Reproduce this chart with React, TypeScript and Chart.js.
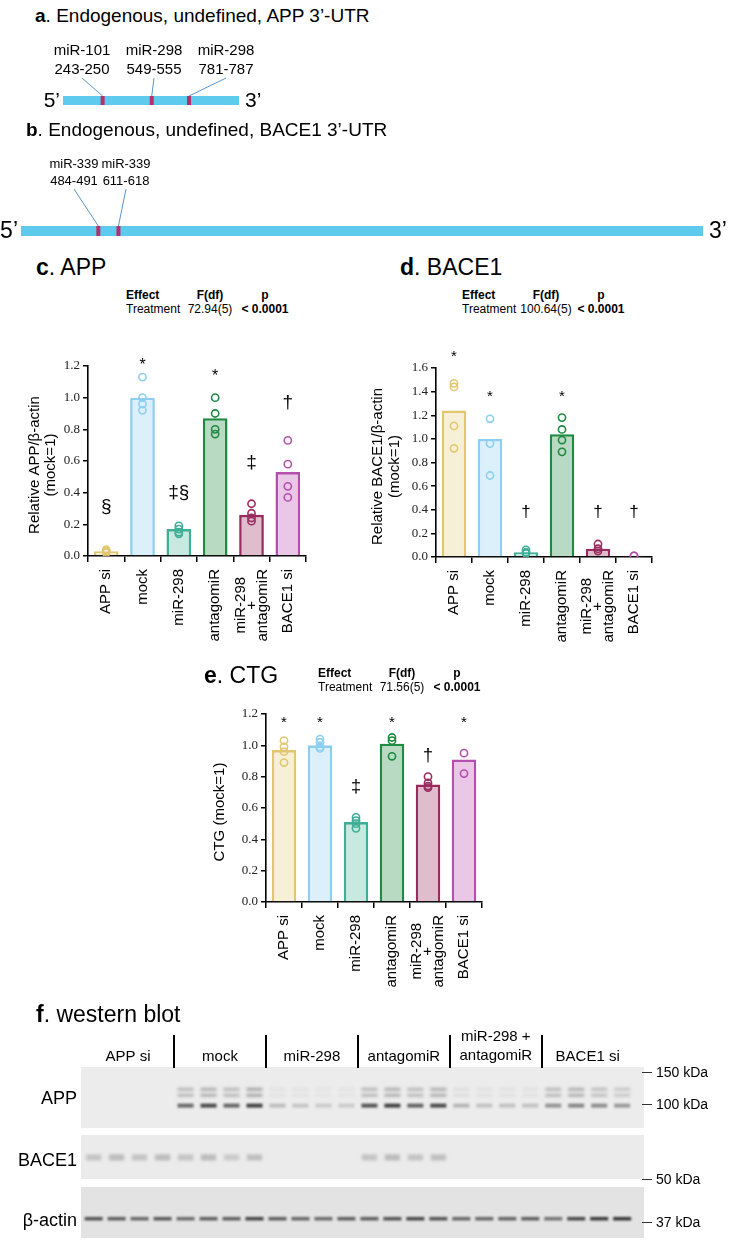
import React, { useEffect, useRef } from "react";
import { Chart, registerables } from "chart.js";

Chart.register(...registerables);

const SANS = '"Liberation Sans", Arial, Helvetica, sans-serif';
const SERIF = '"Liberation Serif", "Times New Roman", serif';

// ===== Panels a / b : 3'-UTR site maps =====
const appUtrLength = 1095;
const appSiteNames = ["miR-101", "miR-298", "miR-298"];
const appSiteStarts = [243, 549, 781];
const appSiteEnds = [250, 555, 787];

const baceUtrLength = 4300;
const baceSiteNames = ["miR-339", "miR-339"];
const baceSiteStarts = [484, 611];
const baceSiteEnds = [491, 618];

// ===== Panels c - e : bar charts =====
const categories = ["APP si", "mock", "miR-298", "antagomiR", "miR-298 + antagomiR", "BACE1 si"];
const categoryLines = [["APP si"], ["mock"], ["miR-298"], ["antagomiR"], ["miR-298", "+", "antagomiR"], ["BACE1 si"]];
const strokeColors = ["#e2c76f", "#8ecff1", "#3eae97", "#1f8a41", "#9a2b5f", "#b44fb0"];
const fillColors = ["#f6f0d7", "#dcf0fb", "#c7e9e0", "#b8dac3", "#e0bdcc", "#eac6e7"];

const appMeans = [0.03, 1.0, 0.17, 0.87, 0.26, 0.53];
const appPoints = [
  [0.04, 0.03, 0.03, 0.02],
  [1.13, 1.0, 0.96, 0.92],
  [0.19, 0.17, 0.15, 0.14],
  [1.0, 0.9, 0.8, 0.77],
  [0.33, 0.27, 0.24, 0.22],
  [0.73, 0.58, 0.44, 0.37],
];
const appMarks = ["§", "*", "‡§", "*", "‡", "†"];
const appMarkY = [0.31, 1.23, 0.4, 1.16, 0.59, 0.97];
const appStatF = "72.94(5)";

const baceMeans = [1.24, 1.0, 0.04, 1.04, 0.07, 0.01];
const bacePoints = [
  [1.47, 1.44, 1.11, 0.92],
  [1.17, 0.96, 0.69],
  [0.06, 0.04, 0.03],
  [1.18, 1.08, 0.99, 0.89],
  [0.11, 0.07, 0.05],
  [0.01, 0.01],
];
const baceMarks = ["*", "*", "†", "*", "†", "†"];
const baceMarkY = [1.73, 1.39, 0.38, 1.39, 0.38, 0.38];
const baceStatF = "100.64(5)";

const ctgMeans = [0.97, 1.0, 0.51, 1.01, 0.75, 0.91];
const ctgPoints = [
  [1.03, 0.99, 0.96, 0.89],
  [1.04, 1.02, 0.99, 0.98],
  [0.54, 0.52, 0.5, 0.47],
  [1.05, 1.03, 0.93],
  [0.8, 0.76, 0.74, 0.73],
  [0.95, 0.82],
];
const ctgMarks = ["*", "*", "‡", "*", "†", "*"];
const ctgMarkY = [1.17, 1.17, 0.73, 1.17, 0.93, 1.17];
const ctgStatF = "71.56(5)";
const pValueText = "< 0.0001";

// ===== Panel f : western blot (band intensity per lane, 24 lanes) =====
const blotGroupLines = [["APP si"], ["mock"], ["miR-298"], ["antagomiR"], ["miR-298 +", "antagomiR"], ["BACE1 si"]];
const lanesPerGroup = 4;
const appMatureBand = [0, 0, 0, 0, 0.26, 0.3, 0.26, 0.34, 0.05, 0.05, 0.04, 0.05, 0.26, 0.3, 0.25, 0.3, 0.07, 0.06, 0.06, 0.06, 0.26, 0.3, 0.23, 0.19];
const appImmatureBand = [0, 0, 0, 0, 0.62, 0.78, 0.64, 0.82, 0.22, 0.18, 0.16, 0.16, 0.72, 0.82, 0.66, 0.78, 0.26, 0.2, 0.2, 0.2, 0.42, 0.48, 0.45, 0.4];
const bace1Band = [0.2, 0.24, 0.2, 0.24, 0.2, 0.24, 0.16, 0.22, 0, 0, 0, 0, 0.2, 0.24, 0.2, 0.22, 0, 0, 0, 0, 0, 0, 0, 0];
const actinBand = [0.72, 0.66, 0.62, 0.7, 0.6, 0.66, 0.66, 0.8, 0.66, 0.62, 0.6, 0.66, 0.66, 0.72, 0.78, 0.72, 0.62, 0.62, 0.64, 0.66, 0.56, 0.78, 0.85, 0.88];
const appMatureKDa = 116;
const appImmatureKDa = 98;
const bace1KDa = 61;
const actinKDa = 38;
const appMarkers = [150, 100];
const baceMarkers = [50];
const actinMarkers = [37];

type Area = { left: number; top: number; right: number; bottom: number };

function T(props: {
  x: number;
  y: number;
  size: number;
  weight?: number;
  align?: "left" | "center" | "right";
  children: React.ReactNode;
}) {
  const { x, y, size, weight = 400, align = "left", children } = props;
  const style: React.CSSProperties = {
    position: "absolute",
    top: y - size * 0.8465,
    fontSize: size,
    lineHeight: `${size}px`,
    fontFamily: SANS,
    fontWeight: weight,
    whiteSpace: "pre",
    color: "#000",
    left: x,
  };
  if (align === "center") style.transform = "translateX(-50%)";
  if (align === "right") style.transform = "translateX(-100%)";
  return <div style={style}>{children}</div>;
}

function ChartCanvas(props: { left: number; top: number; width: number; height: number; make: () => any }) {
  const ref = useRef<HTMLCanvasElement>(null);
  useEffect(() => {
    const chart = new Chart(ref.current as HTMLCanvasElement, props.make());
    return () => chart.destroy();
  }, []);
  return (
    <canvas
      ref={ref}
      width={props.width}
      height={props.height}
      style={{ position: "absolute", left: props.left, top: props.top, width: props.width, height: props.height }}
    />
  );
}

function makeUtrConfig(o: {
  length: number;
  names: string[];
  starts: number[];
  ends: number[];
  width: number;
  height: number;
  area: Area;
  labelX: number[];
  font: number;
  base1: number;
  base2: number;
  lineFrom: number;
  endFont: number;
}) {
  const decor = {
    id: "utrDecor",
    afterDraw(chart: any) {
      const { ctx, chartArea: ca, scales } = chart;
      const xs = scales.x;
      ctx.save();
      o.starts.forEach((s, i) => {
        const cx = xs.getPixelForValue((s + o.ends[i]) / 2);
        ctx.strokeStyle = "#5b93c8";
        ctx.lineWidth = 1;
        ctx.beginPath();
        ctx.moveTo(o.labelX[i], ca.top + o.lineFrom);
        ctx.lineTo(cx, ca.top);
        ctx.stroke();
        ctx.fillStyle = "#b3306b";
        ctx.fillRect(cx - 2, ca.top, 4, ca.bottom - ca.top);
        ctx.fillStyle = "#000";
        ctx.font = `${o.font}px ${SANS}`;
        ctx.textAlign = "center";
        ctx.textBaseline = "alphabetic";
        ctx.fillText(o.names[i], o.labelX[i], ca.top + o.base1);
        ctx.fillText(`${s}-${o.ends[i]}`, o.labelX[i], ca.top + o.base2);
      });
      ctx.font = `${o.endFont}px ${SANS}`;
      ctx.textBaseline = "alphabetic";
      ctx.textAlign = "right";
      ctx.fillText("5’", xs.getPixelForValue(0) - 3, ca.bottom + 2);
      ctx.textAlign = "left";
      ctx.fillText("3’", xs.getPixelForValue(o.length) + 6, ca.bottom + 2);
      ctx.restore();
    },
  };
  return {
    type: "bar",
    data: {
      labels: ["3'-UTR"],
      datasets: [
        {
          data: [[0, o.length]],
          backgroundColor: "#5ecbee",
          borderWidth: 0,
          barPercentage: 1,
          categoryPercentage: 1,
        },
      ],
    },
    options: {
      indexAxis: "y",
      animation: false,
      responsive: false,
      events: [],
      layout: { padding: { left: o.area.left, top: o.area.top, right: o.width - o.area.right, bottom: o.height - o.area.bottom } },
      plugins: { legend: { display: false }, tooltip: { enabled: false } },
      scales: {
        x: { type: "linear", min: 0, max: o.length, display: false },
        y: { display: false },
      },
    },
    plugins: [decor],
  };
}

function makeBarConfig(o: {
  means: number[];
  points: number[][];
  marks: string[];
  markY: number[];
  yMax: number;
  yTitle: string[];
  yTitleX: number[];
  width: number;
  height: number;
  area: Area;
  starSize: number;
  markSize: number;
}) {
  const pts: { x: string; y: number }[] = [];
  const ptColors: string[] = [];
  o.points.forEach((arr, i) =>
    arr.forEach((v) => {
      pts.push({ x: categories[i], y: v });
      ptColors.push(strokeColors[i]);
    })
  );
  const decor = {
    id: "barDecor",
    afterDraw(chart: any) {
      const { ctx, chartArea: ca, scales } = chart;
      const xs = scales.x;
      const ys = scales.y;
      ctx.save();
      ctx.fillStyle = "#000";
      ctx.textAlign = "center";
      ctx.textBaseline = "alphabetic";
      o.marks.forEach((m, i) => {
        const star = m === "*";
        const size = star ? o.starSize : o.markSize;
        ctx.font = `${size}px ${SANS}`;
        const px = xs.getPixelForValue(i);
        const py = ys.getPixelForValue(o.markY[i]);
        ctx.fillText(m, px, py + size * (star ? 0.57 : 0.27));
      });
      ctx.font = `15px ${SANS}`;
      ctx.textBaseline = "middle";
      categoryLines.forEach((lines, i) => {
        const px = xs.getPixelForValue(i);
        const w = Math.max(...lines.map((l) => ctx.measureText(l).width));
        ctx.save();
        ctx.translate(px, ca.bottom + 13);
        ctx.rotate(-Math.PI / 2);
        lines.forEach((l, k) => ctx.fillText(l, -w / 2, (k - (lines.length - 1) / 2) * 11));
        ctx.restore();
      });
      const cy = (ca.top + ca.bottom) / 2 + 4;
      o.yTitle.forEach((t, k) => {
        ctx.save();
        ctx.translate(o.yTitleX[k], cy);
        ctx.rotate(-Math.PI / 2);
        ctx.fillText(t, 0, 0);
        ctx.restore();
      });
      ctx.restore();
    },
  };
  return {
    type: "bar",
    data: {
      labels: categories,
      datasets: [
        {
          type: "scatter",
          data: pts,
          pointRadius: 3.6,
          pointHoverRadius: 3.6,
          pointBorderWidth: 1.6,
          pointBackgroundColor: "rgba(255,255,255,0)",
          pointBorderColor: ptColors,
          order: 0,
        },
        {
          type: "bar",
          data: o.means,
          backgroundColor: fillColors,
          borderColor: strokeColors,
          borderWidth: 2.6,
          barPercentage: 0.68,
          categoryPercentage: 1,
          order: 1,
        },
      ],
    },
    options: {
      animation: false,
      responsive: false,
      events: [],
      layout: { padding: { top: o.area.top, right: o.width - o.area.right, left: 0, bottom: 0 } },
      plugins: { legend: { display: false }, tooltip: { enabled: false } },
      scales: {
        x: {
          type: "category",
          offset: true,
          grid: { offset: true, drawOnChartArea: false, drawTicks: true, tickLength: 6, color: "#000", lineWidth: 1.5 },
          border: { display: true, color: "#000", width: 1.6 },
          ticks: { display: false },
          afterFit: (s: any) => {
            s.height = o.height - o.area.bottom;
          },
        },
        y: {
          min: 0,
          max: o.yMax,
          ticks: {
            stepSize: 0.2,
            callback: (v: any) => Number(v).toFixed(1),
            font: { family: SERIF, size: 13 },
            color: "#222",
            padding: 3,
          },
          grid: { drawOnChartArea: false, drawTicks: true, tickLength: 5, color: "#000", lineWidth: 1.5 },
          border: { display: true, color: "#000", width: 1.6 },
          afterFit: (s: any) => {
            s.width = o.area.left;
          },
        },
      },
    },
    plugins: [decor],
  };
}

function makeBlotConfig(o: {
  width: number;
  height: number;
  area: Area;
  yMin: number;
  yMax: number;
  bg: string;
  bands: { values: number[]; kDa: number; w: number; h: number; blur: number; doublet?: number }[];
  markers: number[];
  rowLabel: string;
  rowLabelKDa: number;
  header: boolean;
}) {
  const decor = {
    id: "blotDecor",
    afterDraw(chart: any) {
      const { ctx, chartArea: ca, scales } = chart;
      const xs = scales.x;
      const ys = scales.y;
      ctx.save();
      ctx.fillStyle = o.bg;
      ctx.fillRect(ca.left, ca.top, ca.right - ca.left, ca.bottom - ca.top);
      ctx.save();
      ctx.beginPath();
      ctx.rect(ca.left, ca.top, ca.right - ca.left, ca.bottom - ca.top);
      ctx.clip();
      o.bands.forEach((b) => {
        ctx.filter = `blur(${b.blur}px)`;
        b.values.forEach((v, i) => {
          if (v <= 0) return;
          const px = xs.getPixelForValue(i);
          const py = ys.getPixelForValue(b.kDa);
          ctx.fillStyle = `rgba(28,28,28,${v})`;
          if (b.doublet) {
            ctx.fillRect(px - b.w / 2, py - b.doublet / 2 - b.h / 2, b.w, b.h);
            ctx.fillRect(px - b.w / 2, py + b.doublet / 2 - b.h / 2, b.w, b.h);
          } else {
            ctx.fillRect(px - b.w / 2, py - b.h / 2, b.w, b.h);
          }
        });
      });
      ctx.filter = "none";
      ctx.restore();
      // kDa markers
      ctx.strokeStyle = "#333";
      ctx.lineWidth = 1;
      ctx.fillStyle = "#000";
      ctx.font = `14px ${SANS}`;
      ctx.textAlign = "left";
      ctx.textBaseline = "middle";
      o.markers.forEach((m) => {
        const py = Math.round(ys.getPixelForValue(m)) + 0.5;
        ctx.beginPath();
        ctx.moveTo(ca.right - 2, py);
        ctx.lineTo(ca.right + 8, py);
        ctx.stroke();
        ctx.fillText(`${m} kDa`, ca.right + 12, py + 1);
      });
      // row label
      ctx.font = `18px ${SANS}`;
      ctx.textAlign = "right";
      ctx.fillText(o.rowLabel, ca.left - 4, ys.getPixelForValue(o.rowLabelKDa));
      // group header
      if (o.header) {
        ctx.font = `15px ${SANS}`;
        ctx.textAlign = "center";
        ctx.textBaseline = "alphabetic";
        blotGroupLines.forEach((lines, g) => {
          const cx = xs.getPixelForValue(g * lanesPerGroup + (lanesPerGroup - 1) / 2);
          if (lines.length === 1) ctx.fillText(lines[0], cx, ca.top - 6);
          else {
            ctx.fillText(lines[0], cx, ca.top - 26);
            ctx.fillText(lines[1], cx, ca.top - 7);
          }
          if (g > 0) {
            const sx = Math.round(xs.getPixelForValue(g * lanesPerGroup - 0.5));
            ctx.strokeStyle = "#000";
            ctx.lineWidth = 2;
            ctx.beginPath();
            ctx.moveTo(sx, ca.top - 32);
            ctx.lineTo(sx, ca.top + 1);
            ctx.stroke();
          }
        });
      }
      ctx.restore();
    },
  };
  return {
    type: "scatter",
    data: { datasets: [] },
    options: {
      animation: false,
      responsive: false,
      events: [],
      layout: { padding: { left: o.area.left, top: o.area.top, right: o.width - o.area.right, bottom: o.height - o.area.bottom } },
      plugins: { legend: { display: false }, tooltip: { enabled: false } },
      scales: {
        x: { type: "linear", min: -0.55, max: 23.95, display: false },
        y: { type: "logarithmic", min: o.yMin, max: o.yMax, display: false },
      },
    },
    plugins: [decor],
  };
}

function Stats(props: { x: number; y: number; f: string }) {
  const { x, y, f } = props;
  return (
    <>
      <T x={x} y={y} size={12} weight={700}>Effect</T>
      <T x={x + 84} y={y} size={12} weight={700} align="center">F(df)</T>
      <T x={x + 139} y={y} size={12} weight={700} align="center">p</T>
      <T x={x} y={y + 14} size={12}>Treatment</T>
      <T x={x + 84} y={y + 14} size={12} align="center">{f}</T>
      <T x={x + 139} y={y + 14} size={12} weight={700} align="center">{pValueText}</T>
    </>
  );
}

export default function App() {
  return (
    <div
      style={{
        position: "absolute",
        left: 0,
        top: 0,
        width: 730,
        height: 1240,
        background: "#fff",
        overflow: "hidden",
        fontFamily: SANS,
      }}
    >
      <T x={35} y={22} size={19}>
        <b>a</b>. Endogenous, undefined, APP 3’-UTR
      </T>
      <ChartCanvas
        left={0}
        top={30}
        width={300}
        height={90}
        make={() =>
          makeUtrConfig({
            length: appUtrLength,
            names: appSiteNames,
            starts: appSiteStarts,
            ends: appSiteEnds,
            width: 300,
            height: 90,
            area: { left: 63, top: 66, right: 239, bottom: 75 },
            labelX: [82, 154, 226],
            font: 15,
            base1: -41,
            base2: -22,
            lineFrom: -18,
            endFont: 21,
          })
        }
      />

      <T x={26} y={136} size={19}>
        <b>b</b>. Endogenous, undefined, BACE1 3’-UTR
      </T>
      <ChartCanvas
        left={0}
        top={145}
        width={730}
        height={97}
        make={() =>
          makeUtrConfig({
            length: baceUtrLength,
            names: baceSiteNames,
            starts: baceSiteStarts,
            ends: baceSiteEnds,
            width: 730,
            height: 97,
            area: { left: 21, top: 81, right: 703, bottom: 91 },
            labelX: [74, 126],
            font: 13,
            base1: -58,
            base2: -41,
            lineFrom: -37,
            endFont: 23,
          })
        }
      />

      <T x={36} y={275} size={23}>
        <b>c</b>. APP
      </T>
      <Stats x={126} y={299} f={appStatF} />
      <ChartCanvas
        left={0}
        top={330}
        width={320}
        height={340}
        make={() =>
          makeBarConfig({
            means: appMeans,
            points: appPoints,
            marks: appMarks,
            markY: appMarkY,
            yMax: 1.2,
            yTitle: ["Relative APP/β-actin", "(mock=1)"],
            yTitleX: [35, 51],
            width: 320,
            height: 340,
            area: { left: 88, top: 36, right: 306, bottom: 226 },
            starSize: 16,
            markSize: 19,
          })
        }
      />

      <T x={400} y={275} size={23}>
        <b>d</b>. BACE1
      </T>
      <Stats x={462} y={299} f={baceStatF} />
      <ChartCanvas
        left={350}
        top={330}
        width={320}
        height={340}
        make={() =>
          makeBarConfig({
            means: baceMeans,
            points: bacePoints,
            marks: baceMarks,
            markY: baceMarkY,
            yMax: 1.6,
            yTitle: ["Relative BACE1/β-actin", "(mock=1)"],
            yTitleX: [28, 45],
            width: 320,
            height: 340,
            area: { left: 86, top: 38, right: 302, bottom: 227 },
            starSize: 15,
            markSize: 17,
          })
        }
      />

      <T x={204} y={683} size={23}>
        <b>e</b>. CTG
      </T>
      <Stats x={318} y={677} f={ctgStatF} />
      <ChartCanvas
        left={180}
        top={692}
        width={320}
        height={318}
        make={() =>
          makeBarConfig({
            means: ctgMeans,
            points: ctgPoints,
            marks: ctgMarks,
            markY: ctgMarkY,
            yMax: 1.2,
            yTitle: ["CTG (mock=1)"],
            yTitleX: [40],
            width: 320,
            height: 318,
            area: { left: 86, top: 22, right: 302, bottom: 210 },
            starSize: 15,
            markSize: 18,
          })
        }
      />

      <T x={36} y={1022} size={23}>
        <b>f</b>. western blot
      </T>
      <ChartCanvas
        left={0}
        top={1025}
        width={730}
        height={107}
        make={() =>
          makeBlotConfig({
            width: 730,
            height: 107,
            area: { left: 81, top: 42, right: 644, bottom: 103 },
            yMin: 73.8,
            yMax: 159.8,
            bg: "#ececec",
            bands: [
              { values: appMatureBand, kDa: appMatureKDa, w: 16, h: 3, blur: 1.5, doublet: 6 },
              { values: appImmatureBand, kDa: appImmatureKDa, w: 16, h: 4, blur: 1.2 },
            ],
            markers: appMarkers,
            rowLabel: "APP",
            rowLabelKDa: 106,
            header: true,
          })
        }
      />
      <ChartCanvas
        left={0}
        top={1132}
        width={730}
        height={54}
        make={() =>
          makeBlotConfig({
            width: 730,
            height: 54,
            area: { left: 81, top: 3, right: 644, bottom: 47 },
            yMin: 50,
            yMax: 75,
            bg: "#ebebeb",
            bands: [{ values: bace1Band, kDa: bace1KDa, w: 15, h: 3, blur: 1.5, doublet: 3 }],
            markers: baceMarkers,
            rowLabel: "BACE1",
            rowLabelKDa: 59,
            header: false,
          })
        }
      />
      <ChartCanvas
        left={0}
        top={1186}
        width={730}
        height={54}
        make={() =>
          makeBlotConfig({
            width: 730,
            height: 54,
            area: { left: 81, top: 1, right: 644, bottom: 52 },
            yMin: 32.8,
            yMax: 48.4,
            bg: "#e3e3e3",
            bands: [{ values: actinBand, kDa: actinKDa, w: 18, h: 3.5, blur: 1.0 }],
            markers: actinMarkers,
            rowLabel: "β-actin",
            rowLabelKDa: 37.3,
            header: false,
          })
        }
      />
    </div>
  );
}
